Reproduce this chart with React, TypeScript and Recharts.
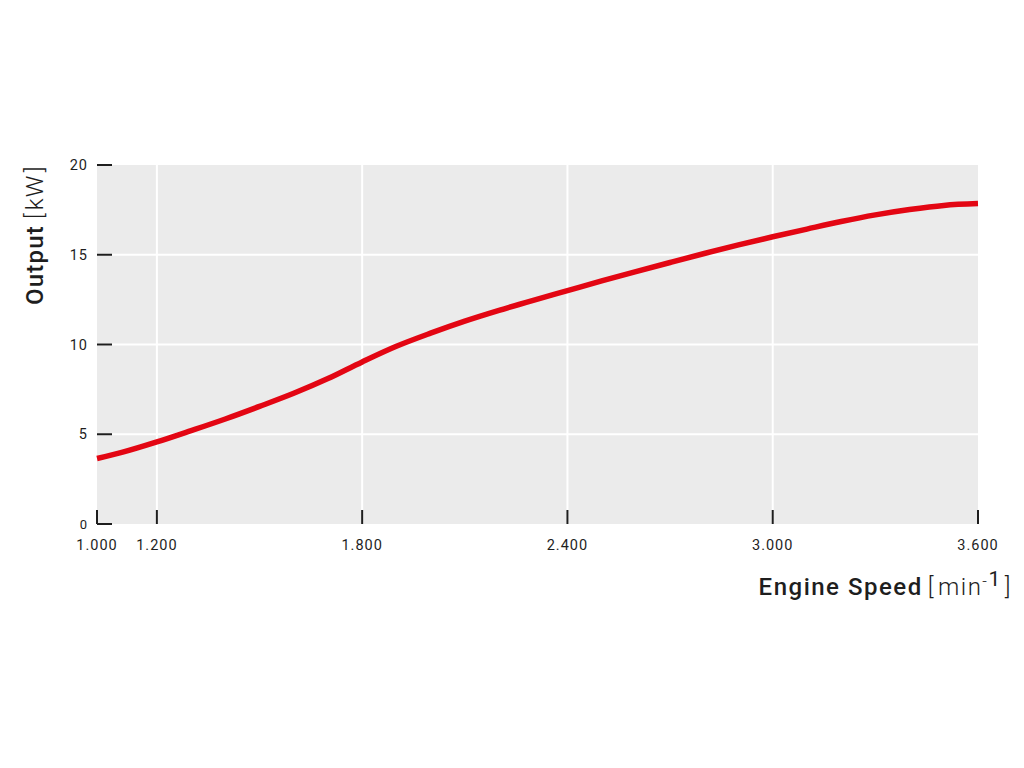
import React from 'react';
import { CartesianGrid, Line, LineChart, XAxis, YAxis } from 'recharts';

// ── Data ───────────────────────────────────────────────────────────────────────

const RPM = [
  1025, 1100, 1200, 1300, 1400, 1500, 1600, 1700, 1800, 1900, 2000, 2100, 2200, 2300,
  2400, 2500, 2600, 2700, 2800, 2900, 3000, 3100, 3200, 3300, 3400, 3500, 3600,
];
const OUTPUT_KW = [
  3.65, 4.0, 4.57, 5.2, 5.85, 6.55, 7.28, 8.1, 9.03, 9.9, 10.63, 11.3, 11.9, 12.46,
  13.0, 13.54, 14.06, 14.57, 15.07, 15.55, 16.0, 16.43, 16.85, 17.22, 17.52, 17.75, 17.85,
];

const X_TICKS = [1025, 1200, 1800, 2400, 3000, 3600];
const X_TICK_LABELS = ['1.000', '1.200', '1.800', '2.400', '3.000', '3.600'];
const Y_TICKS = [0, 5, 10, 15, 20];
const Y_TICK_LABELS = ['0', '5', '10', '15', '20'];

const data = RPM.map((rpm, i) => ({ rpm, kw: OUTPUT_KW[i] }));

// ── Styling ────────────────────────────────────────────────────────────────────

const FONT = 'Roboto, "DejaVu Sans", sans-serif';
const INK = '#1e1e1e';
const RED = '#e30613';
const PLOT_BG = '#ebebeb';

const W = 1008;
const H = 650;

// ── Custom ticks (tick marks drawn inside the plot) ────────────────────────────

function XTick({ x, y, index }: any) {
  return (
    <g>
      <line x1={x} x2={x} y1={y - 14} y2={y} stroke={INK} strokeWidth={2} />
      <text
        x={x}
        y={y + 26}
        textAnchor="middle"
        fontSize={14.5}
        letterSpacing={1}
        fill={INK}
        fontFamily={FONT}
      >
        {X_TICK_LABELS[index]}
      </text>
    </g>
  );
}

function YTick({ x, y, index }: any) {
  const isZero = index === 0;
  return (
    <g>
      <line x1={x} x2={x + 15} y1={y} y2={y} stroke={INK} strokeWidth={2} />
      <text
        x={x - 9}
        y={y + 5}
        textAnchor="end"
        fontSize={isZero ? 13 : 14.5}
        letterSpacing={1}
        fill={INK}
        fontFamily={FONT}
      >
        {Y_TICK_LABELS[index]}
      </text>
    </g>
  );
}

// ── Main component ─────────────────────────────────────────────────────────────

export default function App() {
  return (
    <div style={{ position: 'relative', width: W, height: H }}>
      <LineChart
        width={W}
        height={H}
        data={data}
        margin={{ top: 157, right: 38, bottom: 104, left: 29 }}
      >
        <CartesianGrid
          fill={PLOT_BG}
          stroke="#ffffff"
          strokeWidth={2}
          horizontalValues={[5, 10, 15]}
          verticalValues={[1200, 1800, 2400, 3000]}
        />
        <XAxis
          dataKey="rpm"
          type="number"
          domain={[1025, 3600]}
          ticks={X_TICKS}
          interval={0}
          axisLine={false}
          tickLine={false}
          tickSize={0}
          tickMargin={0}
          height={30}
          tick={<XTick />}
        />
        <YAxis
          type="number"
          domain={[0, 20]}
          ticks={Y_TICKS}
          interval={0}
          axisLine={false}
          tickLine={false}
          tickSize={0}
          tickMargin={0}
          width={60}
          tick={<YTick />}
        />
        <Line
          type="monotone"
          dataKey="kw"
          stroke={RED}
          strokeWidth={5.5}
          dot={false}
          activeDot={false}
          isAnimationActive={false}
        />
      </LineChart>

      {/* Axis titles */}
      <svg
        width={W}
        height={H}
        style={{ position: 'absolute', left: 0, top: 0, pointerEvents: 'none' }}
      >
        <text
          transform="translate(35, 297) rotate(-90)"
          fontSize={24}
          letterSpacing={1.2}
          fill={INK}
          fontFamily={FONT}
        >
          <tspan fontWeight={500}>Output</tspan>
          <tspan fontWeight={300} dx={6}>[</tspan>
          <tspan fontWeight={300} dx={2}>kW</tspan>
          <tspan fontWeight={300} dx={2}>]</tspan>
        </text>
        <text
          x={1004}
          y={587}
          textAnchor="end"
          fontSize={24}
          letterSpacing={1.5}
          fill={INK}
          fontFamily={FONT}
        >
          <tspan fontWeight={500}>Engine Speed</tspan>
          <tspan fontWeight={300} dx={5}>[</tspan>
          <tspan fontWeight={300} dx={3}>min</tspan>
          <tspan fontWeight={300} dy={-8} fontSize={16}>-</tspan>
          <tspan fontWeight={400} dy={-1} fontSize={21}>1</tspan>
          <tspan fontWeight={300} dy={9} dx={3}>]</tspan>
        </text>
      </svg>
    </div>
  );
}
